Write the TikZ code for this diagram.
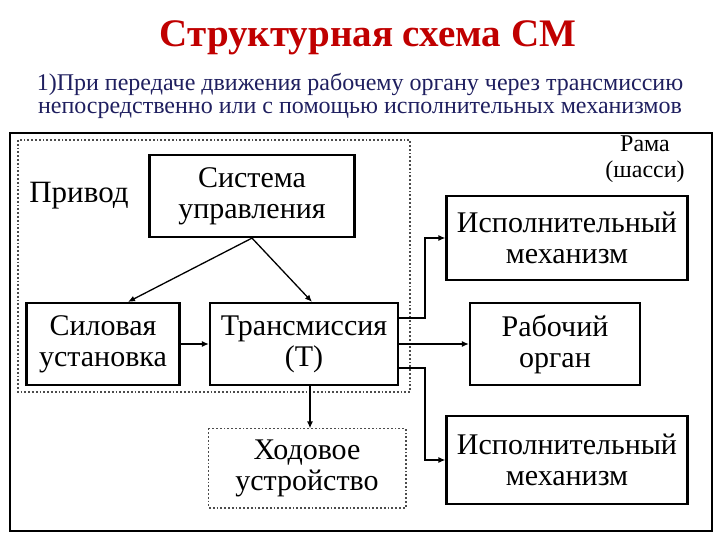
\documentclass[tikz,border=0pt]{standalone}
\usepackage{fontspec}
\setmainfont{Liberation Serif}
\usetikzlibrary{arrows.meta}
\definecolor{ttl}{HTML}{C00000}
\definecolor{sub}{HTML}{1F1F5F}
\begin{document}
\begin{tikzpicture}[x=1pt,y=-1pt,
  blk/.style={draw,line width=2.2pt,align=center,font=\fontsize{30}{31}\selectfont,inner sep=0pt},
  arr/.style={line width=1.3pt,-{Latex[length=7pt,width=6pt]}}]
\useasboundingbox (0,0) rectangle (720,540);
\node[text=ttl,font=\bfseries\fontsize{39}{40}\selectfont] (title) at (368,38) {Структурная схема СМ};
\node[text=sub,font=\fontsize{24}{23}\selectfont,align=center] (subt) at (360,96) {1)При передаче движения рабочему органу через трансмиссию\\непосредственно или с помощью исполнительных механизмов};
\draw[line width=2.5pt] (10,133) rectangle (712,531);
\draw[line width=1.8pt,dotted,gray!60!black] (18,140) rectangle (410,392);
\node[font=\fontsize{31}{32}\selectfont] (priv) at (79,196) {Привод};
\node[font=\fontsize{24}{26}\selectfont,align=center,inner sep=0pt] (rama) at (645,159) {Рама\\(шасси)};
\node[blk,minimum width=205,minimum height=82] (su) at (252,196) {Система\\управления};
\node[blk,minimum width=153,minimum height=82] (sil) at (103,344) {Силовая\\установка};
\node[blk,minimum width=188,minimum height=82] (tr) at (304,344) {Трансмиссия\\(Т)};
\node[blk,draw=none,minimum width=195,minimum height=77] (hod) at (307,468) {Ходовое\\устройство};
\draw[line width=1.8pt,dotted,gray!60!black] (hod.north west) rectangle (hod.south east);
\node[blk,minimum width=241,minimum height=84] (im1) at (567,238) {Исполнительный\\механизм};
\node[blk,minimum width=170,minimum height=82] (ro) at (555,344) {Рабочий\\орган};
\node[blk,minimum width=241,minimum height=88] (im2) at (567,460) {Исполнительный\\механизм};
\draw[arr] (su.south) -- (sil.north -| 128,0);
\draw[arr] (su.south) -- (tr.north -| 312,0);
\draw[arr] (sil.east) -- (tr.west);
\draw[arr] (tr.east) -- (ro.west);
\draw[arr] (tr.south -| 310,0) -- (hod.north -| 310,0);
\coordinate (b1) at (425,318);
\coordinate (b2) at (425,368);
\draw[arr] (tr.east |- b1) -- (b1) |- (im1.west);
\draw[arr] (tr.east |- b2) -- (b2) |- (im2.west);
\end{tikzpicture}
\end{document}
